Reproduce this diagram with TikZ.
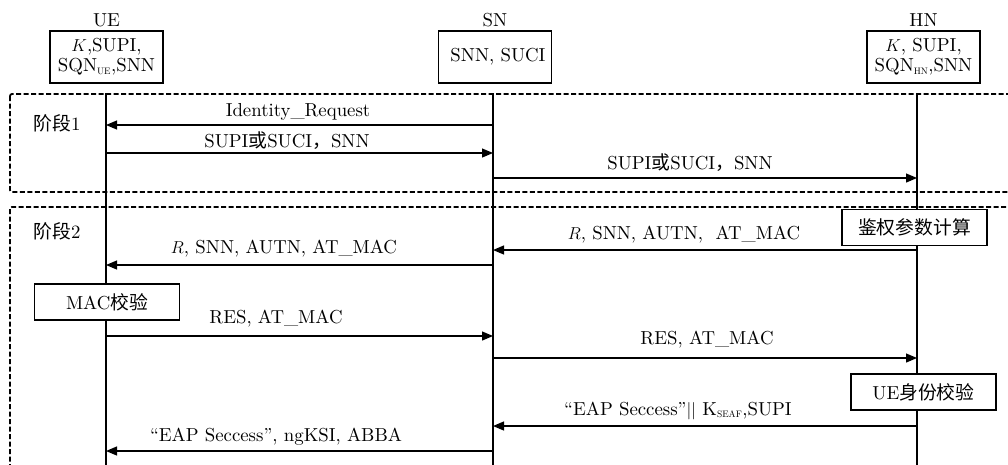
\documentclass[tikz,border=0pt]{standalone}
\usepackage{fontspec}
\setmainfont{lmroman10-regular.otf}[ItalicFont=lmroman10-italic.otf, BoldFont=lmroman10-bold.otf]
\newfontfamily\cjk{Noto Sans CJK SC}
\usetikzlibrary{arrows.meta}
\begin{document}
\begin{tikzpicture}[x=1pt,y=-1pt,
  every node/.style={font=\fontsize{18.8}{20}\selectfont, inner sep=0pt, outer sep=0pt},
  life/.style={line width=2.4pt},
  msg/.style={line width=1.2pt, -{Triangle[length=11pt,width=9pt]}},
  phase/.style={line width=1.8pt, dash pattern=on 5pt off 2.5pt, rounded corners=2pt},
  entbox/.style={draw, line width=1.3pt, minimum width=113pt, minimum height=52pt, align=center},
  actbox/.style={draw, line width=1.3pt, fill=white, minimum width=145pt, minimum height=36pt},
  lbl/.style={anchor=base}]
\useasboundingbox (0,0) rectangle (1008,464);
\clip (0,0) rectangle (1008,464);

% entities
\node[lbl] (uet) at (106.5,26) {UE};
\node[lbl] (snt) at (495,26) {SN};
\node[lbl] (hnt) at (923.5,26) {HN};
\node[entbox] (ue) at (106.5,57) {$K$,SUPI,\\SQN$_{\scriptscriptstyle\rm UE}$,SNN};
\node[entbox] (sn) at (495,57) {\hspace*{6pt}SNN, SUCI};
\node[entbox] (hn) at (923.5,57) {$K$, SUPI,\\SQN$_{\scriptscriptstyle\rm HN}$,SNN};

% phases
\draw[phase] (10,94) rectangle (1030,192);
\draw[phase] (10,207) rectangle (1030,490);
\node[lbl] (p1) at (57,130) {{\cjk 阶段}1};
\node[lbl] (p2) at (57,238) {{\cjk 阶段}2};

% lifelines
\coordinate (UEl) at (106,93);
\coordinate (SNl) at (493,93);
\coordinate (HNl) at (917,93);
\coordinate (UEb) at (106,470);
\coordinate (SNb) at (493,470);
\coordinate (HNb) at (917,470);
\draw[life] (UEl) -- (UEb);
\draw[life] (SNl) -- (SNb);
\draw[life] (HNl) -- (HNb);

% action boxes
\node[actbox] (calc) at (914.5,227.5) {{\cjk 鉴权参数计算}};
\node[actbox] (mac) at (107,302) {MAC{\cjk 校验}};
\node[actbox] (uechk) at (923.5,392) {UE{\cjk 身份校验}};

% phase 1 messages
\draw[msg] (SNl |- 0,125) -- (UEl |- 0,125);
\node[lbl] (l1) at (298,116) {Identity\_Request};
\draw[msg] (UEl |- 0,153) -- (SNl |- 0,153);
\node[lbl] (l2) at (287,147) {SUPI{\cjk 或}SUCI{\cjk ，}SNN};
\draw[msg] (SNl |- 0,178) -- (HNl |- 0,178);
\node[lbl] (l3) at (690,169) {SUPI{\cjk 或}SUCI{\cjk ，}SNN};

% phase 2 messages
\draw[msg] (HNl |- 0,250) -- (SNl |- 0,250);
\node[lbl] (l4) at (684,239) {$R$, SNN, AUTN,\ \ AT\_MAC};
\draw[msg] (SNl |- 0,265) -- (UEl |- 0,265);
\node[lbl] (l5) at (284,253) {$R$, SNN, AUTN, AT\_MAC};
\draw[msg] (UEl |- 0,336) -- (SNl |- 0,336);
\node[lbl] (l6) at (276,323) {RES, AT\_MAC};
\draw[msg] (SNl |- 0,358) -- (HNl |- 0,358);
\node[lbl] (l7) at (707,344) {RES, AT\_MAC};
\draw[msg] (HNl |- 0,426) -- (SNl |- 0,426);
\node[lbl] (l8) at (678,415) {``EAP Seccess''$||$ K$_{\scriptscriptstyle\rm SEAF}$,SUPI};
\draw[msg] (SNl |- 0,451) -- (UEl |- 0,451);
\node[lbl] (l9) at (276,441) {``EAP Seccess'', ngKSI, ABBA};
\end{tikzpicture}
\end{document}
